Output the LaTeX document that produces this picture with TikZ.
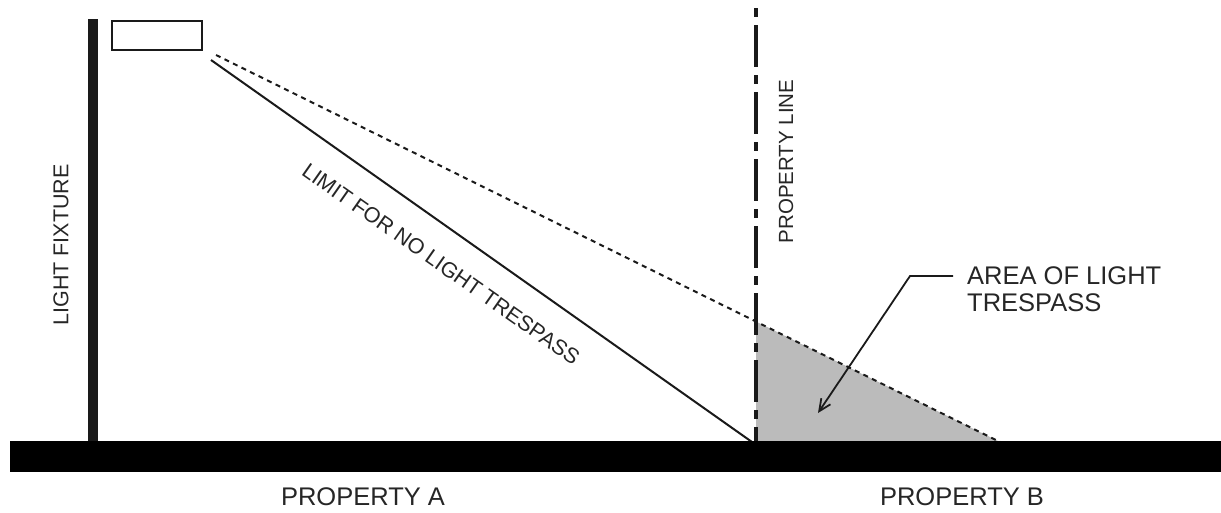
\documentclass[tikz,border=0pt]{standalone}
\usepackage{fontspec}
\setmainfont{Liberation Sans}
\usetikzlibrary{arrows.meta,calc}
\definecolor{ink}{HTML}{1A1A1A}
\definecolor{txt}{HTML}{262626}
\definecolor{trespassgray}{HTML}{BBBBBB}
\begin{document}
\begin{tikzpicture}[x=1pt,y=-1pt,
  bigtxt/.style={font=\fontsize{25.5}{30}\selectfont, text=txt, inner sep=0pt},
  midtxt/.style={font=\fontsize{21.5}{26}\selectfont, text=txt, inner sep=0pt},
  smalltxt/.style={font=\fontsize{20.5}{24}\selectfont, text=txt, inner sep=0pt},
  raylimit/.style={draw=ink, line width=2pt},
  raydotted/.style={draw=ink, line width=2pt, dash pattern=on 5pt off 4.5pt},
  propline/.style={draw=ink, line width=3.2pt, dash pattern=on 9pt off 8pt on 42pt off 8pt},
  leader/.style={draw=ink, line width=1.8pt, -{Straight Barb[length=12pt,width=11pt,line width=1.8pt]}}
]
\useasboundingbox (0,0) rectangle (1221,512);

% key coordinates
\coordinate (s1) at (211,60);
\coordinate (s2) at (752,442);
\coordinate (d1) at (216,55);
\coordinate (d2) at (1000,442);
\coordinate (pltop) at (756,8);
\coordinate (plbot) at (756,442);
\coordinate (meet) at ($(d1)!0.68878!(d2)$);

% area of light trespass
\fill[trespassgray] (meet) -- (plbot) -- (d2) -- cycle;

% rays
\draw[raylimit] (s1) -- (s2);
\draw[raydotted] (d1) -- (d2);

% property line
\draw[propline] (pltop) -- (plbot);

% pole and fixture
\fill[ink] (87.5,19) rectangle (97.5,442);
\node[draw=ink, line width=2.4pt, fill=white, minimum width=90pt, minimum height=29pt, inner sep=0pt] (fixture) at (157,35.5) {};

% ground
\fill[black] (10,441) rectangle (1221,472);

% labels
\node[midtxt, rotate=90] (lf) at (61,245) {LIGHT FIXTURE};
\node[midtxt, rotate=-35.08] (lim) at (441,264) {LIMIT FOR NO LIGHT TRESPASS};
\node[smalltxt, rotate=90] (pl) at (786,161.5) {PROPERTY LINE};
\node[bigtxt, anchor=west] (area1) at (967,276) {AREA OF LIGHT};
\node[bigtxt, anchor=west] (area2) at (967,303) {TRESPASS};
\node[bigtxt] (pa) at (363,496.5) {PROPERTY A};
\node[bigtxt] (pb) at (962,496.5) {PROPERTY B};

% leader arrow
\coordinate (lstart) at ($(area1.west)+(-14,0)$);
\coordinate (lbend) at ($(area1.west)+(-57,0)$);
\coordinate (ltip) at (818,413);
\draw[leader] (lstart) -- (lbend) -- (ltip);
\end{tikzpicture}
\end{document}
